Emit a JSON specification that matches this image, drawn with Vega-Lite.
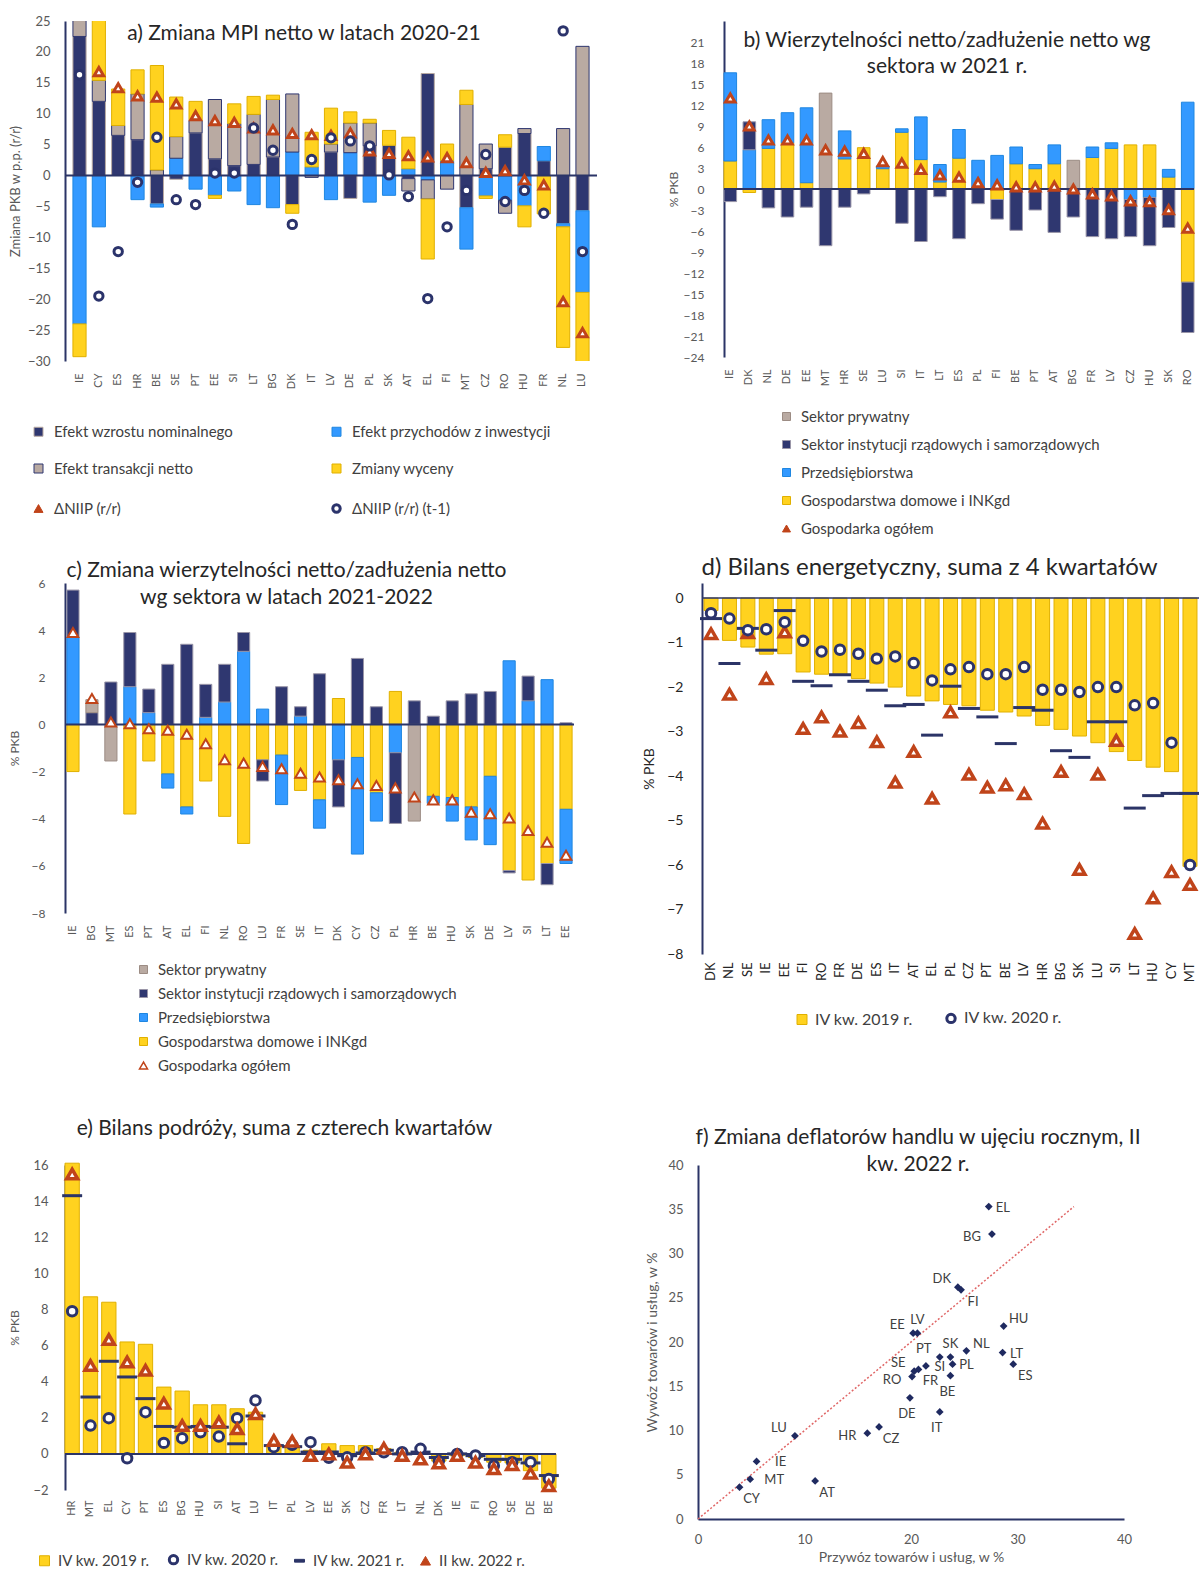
{
"$schema": "https://vega.github.io/schema/vega-lite/v6.json",
"background": "white",
"padding": {"left": 8, "top": 15, "right": 0, "bottom": 0},
"config": {
  "font": "Lato",
  "view": {"stroke": null},
  "axis": {"grid": false, "ticks": false, "labelOverlap": false, "tickCount": 30, "labelColor": "#595959", "titleColor": "#595959", "labelFont": "Lato", "titleFont": "Lato", "titleFontWeight": "normal", "labelFontSize": 13, "titleFontSize": 13, "domainColor": "#2B3467", "domainWidth": 2},
  "title": {"font": "Lato", "fontSize": 21, "fontWeight": "normal", "color": "#262626", "frame": "group", "anchor": "middle"},
  "legend": {"labelFont": "Lato", "labelColor": "#404040", "labelLimit": 500}
},
"datasets": {
  "a_order": [
    {"s": "Efekt wzrostu nominalnego", "k": 1},
    {"s": "Efekt przychodów z inwestycji", "k": 2},
    {"s": "Efekt transakcji netto", "k": 3},
    {"s": "Zmiany wyceny", "k": 4}
  ],
  "a": [
    {"c":"IE","Efekt wzrostu nominalnego":22.5,"Efekt przychodów z inwestycji":-24.0,"Efekt transakcji netto":8.0,"Zmiany wyceny":-5.3,"t":29,"p":16.3},
    {"c":"CY","Efekt wzrostu nominalnego":12.0,"Efekt przychodów z inwestycji":-8.3,"Efekt transakcji netto":3.4,"Zmiany wyceny":9.7,"t":16.8,"p":-19.5},
    {"c":"ES","Efekt wzrostu nominalnego":6.5,"Efekt przychodów z inwestycji":0,"Efekt transakcji netto":1.6,"Zmiany wyceny":5.9,"t":14.2,"p":-12.3},
    {"c":"HR","Efekt wzrostu nominalnego":5.8,"Efekt przychodów z inwestycji":-3.9,"Efekt transakcji netto":7.4,"Zmiany wyceny":3.9,"t":12.9,"p":-1.1},
    {"c":"BE","Efekt wzrostu nominalnego":-4.6,"Efekt przychodów z inwestycji":-0.5,"Efekt transakcji netto":0.9,"Zmiany wyceny":16.9,"t":12.7,"p":6.2},
    {"c":"SE","Efekt wzrostu nominalnego":-0.6,"Efekt przychodów z inwestycji":2.8,"Efekt transakcji netto":3.5,"Zmiany wyceny":6.4,"t":11.6,"p":-3.9},
    {"c":"PT","Efekt wzrostu nominalnego":6.9,"Efekt przychodów z inwestycji":-2.2,"Efekt transakcji netto":2.0,"Zmiany wyceny":3.1,"t":9.7,"p":-4.7},
    {"c":"EE","Efekt wzrostu nominalnego":2.7,"Efekt przychodów z inwestycji":-3.2,"Efekt transakcji netto":9.6,"Zmiany wyceny":-0.5,"t":8.9,"p":0.4},
    {"c":"SI","Efekt wzrostu nominalnego":1.6,"Efekt przychodów z inwestycji":-2.5,"Efekt transakcji netto":6.8,"Zmiany wyceny":3.2,"t":8.6,"p":0.4},
    {"c":"LT","Efekt wzrostu nominalnego":1.8,"Efekt przychodów z inwestycji":-4.7,"Efekt transakcji netto":8.1,"Zmiany wyceny":2.9,"t":7.7,"p":7.7},
    {"c":"BG","Efekt wzrostu nominalnego":3.0,"Efekt przychodów z inwestycji":-5.2,"Efekt transakcji netto":9.3,"Zmiany wyceny":0.7,"t":7.4,"p":4.1},
    {"c":"DK","Efekt wzrostu nominalnego":-4.7,"Efekt przychodów z inwestycji":3.8,"Efekt transakcji netto":9.4,"Zmiany wyceny":-1.4,"t":6.8,"p":-7.9},
    {"c":"IT","Efekt wzrostu nominalnego":0,"Efekt przychodów z inwestycji":1.4,"Efekt transakcji netto":-0.3,"Zmiany wyceny":5.6,"t":6.6,"p":2.6},
    {"c":"LV","Efekt wzrostu nominalnego":3.8,"Efekt przychodów z inwestycji":-3.9,"Efekt transakcji netto":1.3,"Zmiany wyceny":5.8,"t":6.5,"p":6.1},
    {"c":"DE","Efekt wzrostu nominalnego":-3.7,"Efekt przychodów z inwestycji":3.7,"Efekt transakcji netto":4.8,"Zmiany wyceny":1.8,"t":6.9,"p":5.6},
    {"c":"PL","Efekt wzrostu nominalnego":4.8,"Efekt przychodów z inwestycji":-4.3,"Efekt transakcji netto":3.7,"Zmiany wyceny":0.6,"t":4.0,"p":4.8},
    {"c":"SK","Efekt wzrostu nominalnego":4.9,"Efekt przychodów z inwestycji":-3.2,"Efekt transakcji netto":0,"Zmiany wyceny":2.4,"t":3.6,"p":0.1},
    {"c":"AT","Efekt wzrostu nominalnego":-0.5,"Efekt przychodów z inwestycji":1.1,"Efekt transakcji netto":-2.0,"Zmiany wyceny":5.1,"t":3.2,"p":-3.4},
    {"c":"EL","Efekt wzrostu nominalnego":16.5,"Efekt przychodów z inwestycji":-0.7,"Efekt transakcji netto":-3.1,"Zmiany wyceny":-9.7,"t":3.0,"p":-19.9},
    {"c":"FI","Efekt wzrostu nominalnego":0,"Efekt przychodów z inwestycji":2.4,"Efekt transakcji netto":-2.2,"Zmiany wyceny":2.7,"t":2.9,"p":-8.3},
    {"c":"MT","Efekt wzrostu nominalnego":-5.2,"Efekt przychodów z inwestycji":-6.7,"Efekt transakcji netto":11.5,"Zmiany wyceny":2.3,"t":2.1,"p":-2.4},
    {"c":"CZ","Efekt wzrostu nominalnego":1.1,"Efekt przychodów z inwestycji":-3.3,"Efekt transakcji netto":4.0,"Zmiany wyceny":-0.4,"t":0.5,"p":3.4},
    {"c":"RO","Efekt wzrostu nominalnego":4.6,"Efekt przychodów z inwestycji":-4.0,"Efekt transakcji netto":-2.1,"Zmiany wyceny":2.0,"t":0.8,"p":-4.2},
    {"c":"HU","Efekt wzrostu nominalnego":6.8,"Efekt przychodów z inwestycji":-4.9,"Efekt transakcji netto":0.8,"Zmiany wyceny":-3.4,"t":-0.7,"p":-2.4},
    {"c":"FR","Efekt wzrostu nominalnego":2.4,"Efekt przychodów z inwestycji":2.3,"Efekt transakcji netto":0,"Zmiany wyceny":-6.2,"t":-1.5,"p":-6.1},
    {"c":"NL","Efekt wzrostu nominalnego":-7.8,"Efekt przychodów z inwestycji":-0.5,"Efekt transakcji netto":7.6,"Zmiany wyceny":-19.5,"t":-20.4,"p":23.4},
    {"c":"LU","Efekt wzrostu nominalnego":-5.7,"Efekt przychodów z inwestycji":-13.2,"Efekt transakcji netto":20.9,"Zmiany wyceny":-27.4,"t":-25.4,"p":-12.3}
  ],
  "b": [
    {"c":"IE","Gospodarstwa domowe i INKgd":4.0,"Przedsiębiorstwa":12.6,"Sektor instytucji rządowych i samorządowych":-1.8,"Sektor prywatny":0,"t":13.0},
    {"c":"DK","Gospodarstwa domowe i INKgd":-0.5,"Przedsiębiorstwa":5.6,"Sektor instytucji rządowych i samorządowych":4.0,"Sektor prywatny":0,"t":9.0},
    {"c":"NL","Gospodarstwa domowe i INKgd":5.8,"Przedsiębiorstwa":4.1,"Sektor instytucji rządowych i samorządowych":-2.7,"Sektor prywatny":0,"t":7.0},
    {"c":"DE","Gospodarstwa domowe i INKgd":6.6,"Przedsiębiorstwa":4.3,"Sektor instytucji rządowych i samorządowych":-4.0,"Sektor prywatny":0,"t":7.0},
    {"c":"EE","Gospodarstwa domowe i INKgd":0.9,"Przedsiębiorstwa":10.7,"Sektor instytucji rządowych i samorządowych":-2.6,"Sektor prywatny":0,"t":7.0},
    {"c":"MT","Gospodarstwa domowe i INKgd":0,"Przedsiębiorstwa":0,"Sektor instytucji rządowych i samorządowych":-8.1,"Sektor prywatny":13.7,"t":5.6},
    {"c":"HR","Gospodarstwa domowe i INKgd":4.3,"Przedsiębiorstwa":4.0,"Sektor instytucji rządowych i samorządowych":-2.6,"Sektor prywatny":0,"t":5.4},
    {"c":"SE","Gospodarstwa domowe i INKgd":5.9,"Przedsiębiorstwa":0,"Sektor instytucji rządowych i samorządowych":-0.7,"Sektor prywatny":0,"t":5.1},
    {"c":"LU","Gospodarstwa domowe i INKgd":2.9,"Przedsiębiorstwa":0.4,"Sektor instytucji rządowych i samorządowych":0,"Sektor prywatny":0,"t":3.9},
    {"c":"SI","Gospodarstwa domowe i INKgd":8.1,"Przedsiębiorstwa":0.5,"Sektor instytucji rządowych i samorządowych":-4.9,"Sektor prywatny":0,"t":3.7},
    {"c":"IT","Gospodarstwa domowe i INKgd":4.2,"Przedsiębiorstwa":6.1,"Sektor instytucji rządowych i samorządowych":-7.5,"Sektor prywatny":0,"t":2.8},
    {"c":"LT","Gospodarstwa domowe i INKgd":1.0,"Przedsiębiorstwa":2.5,"Sektor instytucji rządowych i samorządowych":-1.1,"Sektor prywatny":0,"t":2.0},
    {"c":"ES","Gospodarstwa domowe i INKgd":4.4,"Przedsiębiorstwa":4.1,"Sektor instytucji rządowych i samorządowych":-7.1,"Sektor prywatny":0,"t":1.7},
    {"c":"PL","Gospodarstwa domowe i INKgd":0,"Przedsiębiorstwa":4.1,"Sektor instytucji rządowych i samorządowych":-2.1,"Sektor prywatny":0,"t":0.9},
    {"c":"FI","Gospodarstwa domowe i INKgd":-1.5,"Przedsiębiorstwa":4.8,"Sektor instytucji rządowych i samorządowych":-2.8,"Sektor prywatny":0,"t":0.6},
    {"c":"BE","Gospodarstwa domowe i INKgd":3.6,"Przedsiębiorstwa":2.4,"Sektor instytucji rządowych i samorządowych":-5.9,"Sektor prywatny":0,"t":0.3},
    {"c":"PT","Gospodarstwa domowe i INKgd":2.9,"Przedsiębiorstwa":0.6,"Sektor instytucji rządowych i samorządowych":-3.0,"Sektor prywatny":0,"t":0.3},
    {"c":"AT","Gospodarstwa domowe i INKgd":3.6,"Przedsiębiorstwa":2.7,"Sektor instytucji rządowych i samorządowych":-6.2,"Sektor prywatny":0,"t":0.4},
    {"c":"BG","Gospodarstwa domowe i INKgd":0,"Przedsiębiorstwa":0,"Sektor instytucji rządowych i samorządowych":-4.0,"Sektor prywatny":4.1,"t":0.0},
    {"c":"FR","Gospodarstwa domowe i INKgd":4.5,"Przedsiębiorstwa":1.5,"Sektor instytucji rządowych i samorządowych":-6.8,"Sektor prywatny":0,"t":-0.7},
    {"c":"LV","Gospodarstwa domowe i INKgd":5.8,"Przedsiębiorstwa":0.8,"Sektor instytucji rządowych i samorządowych":-7.1,"Sektor prywatny":0,"t":-1.0},
    {"c":"CZ","Gospodarstwa domowe i INKgd":6.3,"Przedsiębiorstwa":-1.5,"Sektor instytucji rządowych i samorządowych":-5.3,"Sektor prywatny":0,"t":-1.7},
    {"c":"HU","Gospodarstwa domowe i INKgd":6.3,"Przedsiębiorstwa":-1.2,"Sektor instytucji rządowych i samorządowych":-6.9,"Sektor prywatny":0,"t":-1.8},
    {"c":"SK","Gospodarstwa domowe i INKgd":1.7,"Przedsiębiorstwa":1.1,"Sektor instytucji rządowych i samorządowych":-5.5,"Sektor prywatny":0,"t":-2.95},
    {"c":"RO","Gospodarstwa domowe i INKgd":-13.3,"Przedsiębiorstwa":12.4,"Sektor instytucji rządowych i samorządowych":-7.2,"Sektor prywatny":0,"t":-5.6}
  ],
  "cc": [
    {"c":"IE","Gospodarstwa domowe i INKgd":-2.0,"Przedsiębiorstwa":3.7,"Sektor instytucji rządowych i samorządowych":2.0,"Sektor prywatny":0,"t":3.9},
    {"c":"BG","Gospodarstwa domowe i INKgd":0,"Przedsiębiorstwa":0,"Sektor instytucji rządowych i samorządowych":0.5,"Sektor prywatny":0.55,"t":1.1},
    {"c":"MT","Gospodarstwa domowe i INKgd":0,"Przedsiębiorstwa":0,"Sektor instytucji rządowych i samorządowych":1.8,"Sektor prywatny":-1.55,"t":0.1},
    {"c":"ES","Gospodarstwa domowe i INKgd":-3.8,"Przedsiębiorstwa":1.6,"Sektor instytucji rządowych i samorządowych":2.3,"Sektor prywatny":0,"t":0.03},
    {"c":"PT","Gospodarstwa domowe i INKgd":-1.55,"Przedsiębiorstwa":0.5,"Sektor instytucji rządowych i samorządowych":1.0,"Sektor prywatny":0,"t":-0.18},
    {"c":"AT","Gospodarstwa domowe i INKgd":-2.1,"Przedsiębiorstwa":-0.6,"Sektor instytucji rządowych i samorządowych":2.55,"Sektor prywatny":0,"t":-0.25},
    {"c":"EL","Gospodarstwa domowe i INKgd":-3.5,"Przedsiębiorstwa":-0.3,"Sektor instytucji rządowych i samorządowych":3.4,"Sektor prywatny":0,"t":-0.42},
    {"c":"FI","Gospodarstwa domowe i INKgd":-2.4,"Przedsiębiorstwa":0.3,"Sektor instytucji rządowych i samorządowych":1.4,"Sektor prywatny":0,"t":-0.82},
    {"c":"NL","Gospodarstwa domowe i INKgd":-3.9,"Przedsiębiorstwa":0.95,"Sektor instytucji rządowych i samorządowych":1.6,"Sektor prywatny":0,"t":-1.5},
    {"c":"RO","Gospodarstwa domowe i INKgd":-5.05,"Przedsiębiorstwa":3.1,"Sektor instytucji rządowych i samorządowych":0.8,"Sektor prywatny":0,"t":-1.64},
    {"c":"LU","Gospodarstwa domowe i INKgd":-1.5,"Przedsiębiorstwa":0.65,"Sektor instytucji rządowych i samorządowych":-0.9,"Sektor prywatny":0,"t":-1.78},
    {"c":"FR","Gospodarstwa domowe i INKgd":-1.3,"Przedsiębiorstwa":-2.1,"Sektor instytucji rządowych i samorządowych":1.6,"Sektor prywatny":0,"t":-1.88},
    {"c":"SE","Gospodarstwa domowe i INKgd":-2.8,"Przedsiębiorstwa":0.35,"Sektor instytucji rządowych i samorządowych":0.4,"Sektor prywatny":0,"t":-2.07},
    {"c":"IT","Gospodarstwa domowe i INKgd":-3.2,"Przedsiębiorstwa":-1.2,"Sektor instytucji rządowych i samorządowych":2.15,"Sektor prywatny":0,"t":-2.23},
    {"c":"DK","Gospodarstwa domowe i INKgd":1.1,"Przedsiębiorstwa":-1.5,"Sektor instytucji rządowych i samorządowych":-2.0,"Sektor prywatny":0,"t":-2.35},
    {"c":"CY","Gospodarstwa domowe i INKgd":-1.4,"Przedsiębiorstwa":-4.1,"Sektor instytucji rządowych i samorządowych":2.8,"Sektor prywatny":0,"t":-2.52},
    {"c":"CZ","Gospodarstwa domowe i INKgd":-2.9,"Przedsiębiorstwa":-1.2,"Sektor instytucji rządowych i samorządowych":0.75,"Sektor prywatny":0,"t":-2.59},
    {"c":"PL","Gospodarstwa domowe i INKgd":1.4,"Przedsiębiorstwa":-1.2,"Sektor instytucji rządowych i samorządowych":-3.0,"Sektor prywatny":0,"t":-2.69},
    {"c":"HR","Gospodarstwa domowe i INKgd":0,"Przedsiębiorstwa":0,"Sektor instytucji rządowych i samorządowych":1.0,"Sektor prywatny":-4.1,"t":-3.08},
    {"c":"BE","Gospodarstwa domowe i INKgd":-3.05,"Przedsiębiorstwa":-0.3,"Sektor instytucji rządowych i samorządowych":0.35,"Sektor prywatny":0,"t":-3.2},
    {"c":"HU","Gospodarstwa domowe i INKgd":-3.1,"Przedsiębiorstwa":-1.0,"Sektor instytucji rządowych i samorządowych":1.0,"Sektor prywatny":0,"t":-3.2},
    {"c":"SK","Gospodarstwa domowe i INKgd":-3.5,"Przedsiębiorstwa":-1.4,"Sektor instytucji rządowych i samorządowych":1.3,"Sektor prywatny":0,"t":-3.72},
    {"c":"DE","Gospodarstwa domowe i INKgd":-2.2,"Przedsiębiorstwa":-2.9,"Sektor instytucji rządowych i samorządowych":1.4,"Sektor prywatny":0,"t":-3.79},
    {"c":"LV","Gospodarstwa domowe i INKgd":-6.2,"Przedsiębiorstwa":2.7,"Sektor instytucji rządowych i samorządowych":-0.1,"Sektor prywatny":0,"t":-3.97},
    {"c":"SI","Gospodarstwa domowe i INKgd":-6.6,"Przedsiębiorstwa":1.0,"Sektor instytucji rządowych i samorządowych":1.05,"Sektor prywatny":0,"t":-4.5},
    {"c":"LT","Gospodarstwa domowe i INKgd":-5.9,"Przedsiębiorstwa":1.9,"Sektor instytucji rządowych i samorządowych":-0.9,"Sektor prywatny":0,"t":-5.0},
    {"c":"EE","Gospodarstwa domowe i INKgd":-3.6,"Przedsiębiorstwa":-2.3,"Sektor instytucji rządowych i samorządowych":0.07,"Sektor prywatny":0,"t":-5.55}
  ],
  "d": [
    {"c":"DK","b":-0.28,"o":-0.34,"d":-0.46,"t":-0.80},
    {"c":"NL","b":-0.95,"o":-0.46,"d":-1.47,"t":-2.16},
    {"c":"SE","b":-1.10,"o":-0.72,"d":-0.68,"t":-0.78},
    {"c":"IE","b":-1.26,"o":-0.70,"d":-1.17,"t":-1.81},
    {"c":"EE","b":-1.25,"o":-0.54,"d":-0.28,"t":-0.76},
    {"c":"FI","b":-1.66,"o":-0.96,"d":-1.87,"t":-2.93},
    {"c":"RO","b":-1.71,"o":-1.20,"d":-1.97,"t":-2.67},
    {"c":"FR","b":-1.73,"o":-1.16,"d":-1.72,"t":-2.99},
    {"c":"DE","b":-1.81,"o":-1.25,"d":-1.87,"t":-2.80},
    {"c":"ES","b":-1.91,"o":-1.36,"d":-2.07,"t":-3.23},
    {"c":"IT","b":-2.00,"o":-1.31,"d":-2.42,"t":-4.14},
    {"c":"AT","b":-2.20,"o":-1.46,"d":-2.39,"t":-3.45},
    {"c":"EL","b":-2.31,"o":-1.85,"d":-3.08,"t":-4.50},
    {"c":"PL","b":-2.39,"o":-1.60,"d":-1.98,"t":-2.56},
    {"c":"CZ","b":-2.42,"o":-1.55,"d":-2.48,"t":-3.96},
    {"c":"PT","b":-2.52,"o":-1.71,"d":-2.67,"t":-4.25},
    {"c":"BE","b":-2.56,"o":-1.71,"d":-3.27,"t":-4.20},
    {"c":"LV","b":-2.65,"o":-1.55,"d":-2.46,"t":-4.40},
    {"c":"HR","b":-2.86,"o":-2.06,"d":-2.52,"t":-5.06},
    {"c":"BG","b":-2.95,"o":-2.06,"d":-3.43,"t":-3.90},
    {"c":"SK","b":-3.10,"o":-2.11,"d":-3.58,"t":-6.10},
    {"c":"LU","b":-3.25,"o":-2.00,"d":-2.78,"t":-3.96},
    {"c":"SI","b":-3.45,"o":-2.00,"d":-2.78,"t":-3.20},
    {"c":"LT","b":-3.65,"o":-2.41,"d":-4.72,"t":-7.54},
    {"c":"HU","b":-3.80,"o":-2.36,"d":-4.44,"t":-6.74},
    {"c":"CY","b":-3.90,"o":-3.25,"d":-4.39,"t":-6.15},
    {"c":"MT","b":-6.03,"o":-6.00,"d":-4.39,"t":-6.44}
  ],
  "e": [
    {"c":"HR","b":16.1,"o":7.9,"d":14.3,"t":15.5},
    {"c":"MT","b":8.7,"o":1.57,"d":3.15,"t":4.9},
    {"c":"EL","b":8.4,"o":1.98,"d":5.13,"t":6.33},
    {"c":"CY","b":6.2,"o":-0.24,"d":4.26,"t":5.09},
    {"c":"PT","b":6.07,"o":2.31,"d":3.06,"t":4.63},
    {"c":"ES","b":3.7,"o":0.61,"d":1.52,"t":2.81},
    {"c":"BG","b":3.48,"o":0.87,"d":1.48,"t":1.57},
    {"c":"HU","b":2.72,"o":1.2,"d":1.52,"t":1.57},
    {"c":"SI","b":2.72,"o":0.96,"d":1.48,"t":1.76},
    {"c":"AT","b":2.5,"o":1.98,"d":0.56,"t":1.39},
    {"c":"LU","b":2.31,"o":2.96,"d":2.1,"t":2.22},
    {"c":"IT","b":0.4,"o":0.37,"d":0.46,"t":0.74},
    {"c":"PL","b":0.4,"o":0.5,"d":0.4,"t":0.7},
    {"c":"LV","b":0.2,"o":0.65,"d":0.1,"t":-0.09},
    {"c":"EE","b":0.56,"o":-0.22,"d":0.1,"t":0.0},
    {"c":"SK","b":0.46,"o":-0.19,"d":-0.1,"t":-0.46},
    {"c":"CZ","b":0.46,"o":0.09,"d":0.05,"t":0.0},
    {"c":"FR","b":0.3,"o":0.09,"d":0.2,"t":0.31},
    {"c":"LT","b":0.1,"o":0.09,"d":0.0,"t":-0.09},
    {"c":"NL","b":0.1,"o":0.28,"d":0.1,"t":-0.28},
    {"c":"DK","b":-0.4,"o":-0.4,"d":-0.2,"t":-0.5},
    {"c":"IE","b":-0.1,"o":0.0,"d":0.0,"t":-0.09},
    {"c":"FI","b":-0.2,"o":-0.09,"d":-0.1,"t":-0.46},
    {"c":"RO","b":-0.46,"o":-0.65,"d":-0.3,"t":-0.83},
    {"c":"SE","b":-0.5,"o":-0.46,"d":-0.3,"t":-0.6},
    {"c":"DE","b":-0.93,"o":-0.46,"d":-0.5,"t":-1.07},
    {"c":"BE","b":-1.9,"o":-1.39,"d":-1.2,"t":-1.76}
  ],
  "f": [
    {"c":"EL","x":27.3,"y":35.3},
    {"c":"BG","x":27.6,"y":32.2},
    {"c":"DK","x":24.4,"y":26.2},
    {"c":"FI","x":24.7,"y":25.9},
    {"c":"HU","x":28.7,"y":21.8},
    {"c":"EE","x":20.2,"y":21.0},
    {"c":"LV","x":20.6,"y":21.0},
    {"c":"NL","x":25.2,"y":19.0},
    {"c":"LT","x":28.6,"y":18.8},
    {"c":"PT","x":22.7,"y":18.3},
    {"c":"SK","x":23.7,"y":18.3},
    {"c":"PL","x":23.9,"y":17.5},
    {"c":"ES","x":29.6,"y":17.5},
    {"c":"SI","x":21.4,"y":17.3},
    {"c":"SE","x":20.3,"y":16.7},
    {"c":"RO","x":20.1,"y":16.1},
    {"c":"FR","x":20.7,"y":16.9},
    {"c":"BE","x":23.7,"y":16.2},
    {"c":"DE","x":19.9,"y":13.7},
    {"c":"IT","x":22.7,"y":12.1},
    {"c":"CZ","x":17.0,"y":10.4},
    {"c":"HR","x":15.9,"y":9.7},
    {"c":"LU","x":9.1,"y":9.4},
    {"c":"IE","x":5.5,"y":6.5},
    {"c":"MT","x":4.9,"y":4.5},
    {"c":"AT","x":11.0,"y":4.3},
    {"c":"CY","x":3.9,"y":3.6}
  ],
  "f_line": [{"x":0,"y":0},{"x":35.3,"y":35.3}]
},
"resolve": {"scale": {"color": "independent", "stroke": "independent"}, "legend": {"color": "independent"}},
"spacing": 44,
"vconcat": [
 {
  "resolve": {"scale": {"color": "independent", "stroke": "independent"}, "legend": {"color": "independent"}},
  "spacing": 19,
  "vconcat": [
   {
    "resolve": {"scale": {"color": "independent", "stroke": "independent"}, "legend": {"color": "independent"}},
    "spacing": 69,
    "hconcat": [
     {
      "width": 532, "height": 340,
      "title": {"text": "a) Zmiana MPI netto w latach 2020-21", "offset": -29, "dx": -27},
      "data": {"name": "a"},
      "layer": [
       {
        "transform": [
          {"fold": ["Efekt wzrostu nominalnego","Efekt przychodów z inwestycji","Efekt transakcji netto","Zmiany wyceny"], "as": ["s","v"]},
          {"filter": "datum.v != 0"},
          {"lookup": "s", "from": {"data": {"name": "a_order"}, "key": "s", "fields": ["k"]}}
        ],
        "mark": {"type": "bar", "clip": true, "strokeWidth": 1},
        "encoding": {
          "x": {"field": "c", "type": "nominal", "title": null, "scale": {"domain": ["IE","CY","ES","HR","BE","SE","PT","EE","SI","LT","BG","DK","IT","LV","DE","PL","SK","AT","EL","FI","MT","CZ","RO","HU","FR","NL","LU"], "paddingInner": 0.32, "paddingOuter": 0.41}, "axis": {"labelAngle": -90, "labelPadding": 12, "domain": false, "labelFontSize": 11}},
          "y": {"field": "v", "type": "quantitative", "title": "Zmiana PKB w p.p. (r/r)", "scale": {"domain": [-30, 25], "nice": false, "zero": false}, "axis": {"values": [-30,-25,-20,-15,-10,-5,0,5,10,15,20,25], "format": "d", "tickCount": 30, "labelPadding": 15, "titlePadding": 5, "labelOverlap": false}},
          "color": {"field": "s", "type": "nominal",
            "scale": {"domain": ["Efekt wzrostu nominalnego","Efekt przychodów z inwestycji","Efekt transakcji netto","Zmiany wyceny","ΔNIIP (r/r)","ΔNIIP (r/r) (t-1)"], "range": ["#2F3770","#3399FF","#B9AAA2","#FFD21F","#C0441A","#FFFFFF"]},
            "legend": {"title": null, "orient": "none", "direction": "horizontal", "legendX": -34, "legendY": 403, "columns": 2, "columnPadding": 92, "rowPadding": 21, "symbolSize": 81, "labelOffset": 8, "labelFontSize": 15,
              "encode": {"symbols": {"update": {
                "shape": {"signal": "datum.value === 'ΔNIIP (r/r)' ? 'triangle-up' : (datum.value === 'ΔNIIP (r/r) (t-1)' ? 'circle' : 'square')"},
                "stroke": {"signal": "['#B9AAA2','#1F86E0','#2F3770','#E0B000','#C0441A','#2B336B'][indexof(['Efekt wzrostu nominalnego','Efekt przychodów z inwestycji','Efekt transakcji netto','Zmiany wyceny','ΔNIIP (r/r)','ΔNIIP (r/r) (t-1)'], datum.value)]"},
                "strokeWidth": {"signal": "datum.value === 'ΔNIIP (r/r) (t-1)' ? 3 : 1"},
                "size": {"signal": "datum.value === 'ΔNIIP (r/r) (t-1)' ? 55 : 81"}
              }}}}},
          "stroke": {"field": "s", "type": "nominal", "scale": {"domain": ["Efekt wzrostu nominalnego","Efekt przychodów z inwestycji","Efekt transakcji netto","Zmiany wyceny"], "range": ["#B9AAA2","#1F86E0","#2F3770","#E0B000"]}, "legend": null},
          "order": {"field": "k", "type": "quantitative"}
        }
       },
       {"data": {"values": [{}]}, "mark": {"type": "rule", "color": "#2B3467", "strokeWidth": 2}, "encoding": {"y": {"datum": 0, "type": "quantitative"}}},
       {
        "mark": {"type": "point", "shape": "triangle-up", "filled": true, "fill": "#FFFFFF", "stroke": "#C0441A", "strokeWidth": 3, "size": 90, "opacity": 1, "clip": true},
        "encoding": {
          "x": {"field": "c", "type": "nominal", "title": null, "scale": {"domain": ["IE","CY","ES","HR","BE","SE","PT","EE","SI","LT","BG","DK","IT","LV","DE","PL","SK","AT","EL","FI","MT","CZ","RO","HU","FR","NL","LU"]}},
          "y": {"field": "t", "type": "quantitative", "title": "Zmiana PKB w p.p. (r/r)"}
        }
       },
       {
        "mark": {"type": "point", "shape": "circle", "filled": true, "fill": "#FFFFFF", "stroke": "#2B336B", "strokeWidth": 3, "size": 70, "opacity": 1, "clip": true},
        "encoding": {
          "x": {"field": "c", "type": "nominal", "title": null, "scale": {"domain": ["IE","CY","ES","HR","BE","SE","PT","EE","SI","LT","BG","DK","IT","LV","DE","PL","SK","AT","EL","FI","MT","CZ","RO","HU","FR","NL","LU"]}},
          "y": {"field": "p", "type": "quantitative", "title": "Zmiana PKB w p.p. (r/r)"}
        }
       }
      ]
     },
     {
      "width": 470, "height": 336,
      "title": {"text": ["b) Wierzytelności netto/zadłużenie netto wg", "sektora w 2021 r."], "lineHeight": 26, "offset": -56, "dx": -12},
      "data": {"name": "b"},
      "layer": [
       {
        "transform": [
          {"fold": ["Gospodarstwa domowe i INKgd","Przedsiębiorstwa","Sektor instytucji rządowych i samorządowych","Sektor prywatny"], "as": ["s","v"]},
          {"filter": "datum.v != 0"}
        ],
        "mark": {"type": "bar", "strokeWidth": 1},
        "encoding": {
          "x": {"field": "c", "type": "nominal", "title": null, "scale": {"domain": ["IE","DK","NL","DE","EE","MT","HR","SE","LU","SI","IT","LT","ES","PL","FI","BE","PT","AT","BG","FR","LV","CZ","HU","SK","RO"], "paddingInner": 0.34, "paddingOuter": 0.0}, "axis": {"labelAngle": -90, "labelPadding": 12, "domain": false, "labelFontSize": 11}},
          "y": {"field": "v", "type": "quantitative", "title": "% PKB", "scale": {"domain": [-24, 24], "nice": false, "zero": false}, "axis": {"values": [-24,-21,-18,-15,-12,-9,-6,-3,0,3,6,9,12,15,18,21], "format": "d", "tickCount": 30, "labelPadding": 20, "titlePadding": 3, "labelFontSize": 12, "titleFontSize": 12, "labelOverlap": false}},
          "color": {"field": "s", "type": "nominal",
            "scale": {"domain": ["Sektor prywatny","Sektor instytucji rządowych i samorządowych","Przedsiębiorstwa","Gospodarstwa domowe i INKgd","Gospodarka ogółem"], "range": ["#B9AAA2","#2F3770","#3399FF","#FFD21F","#C0441A"]},
            "legend": {"title": null, "orient": "none", "legendX": 55, "legendY": 388, "rowPadding": 12, "symbolSize": 64, "labelOffset": 7, "labelFontSize": 15,
              "encode": {"symbols": {"update": {
                "shape": {"signal": "datum.value === 'Gospodarka ogółem' ? 'triangle-up' : 'square'"},
                "stroke": {"signal": "['#9C8C84','#9A96A8','#1F86E0','#E0B000','#C0441A'][indexof(['Sektor prywatny','Sektor instytucji rządowych i samorządowych','Przedsiębiorstwa','Gospodarstwa domowe i INKgd','Gospodarka ogółem'], datum.value)]"},
                "strokeWidth": {"value": 1}
              }}}}},
          "stroke": {"field": "s", "type": "nominal", "scale": {"domain": ["Sektor prywatny","Sektor instytucji rządowych i samorządowych","Przedsiębiorstwa","Gospodarstwa domowe i INKgd"], "range": ["#9C8C84","#9A96A8","#1F86E0","#E0B000"]}, "legend": null},
          "order": {"field": "s", "type": "nominal", "sort": "ascending"}
        }
       },
       {"data": {"values": [{}]}, "mark": {"type": "rule", "color": "#2B3467", "strokeWidth": 2}, "encoding": {"y": {"datum": 0, "type": "quantitative"}}},
       {
        "mark": {"type": "point", "shape": "triangle-up", "filled": true, "fill": "#FFFFFF", "stroke": "#C0441A", "strokeWidth": 3, "size": 90, "opacity": 1},
        "encoding": {
          "x": {"field": "c", "type": "nominal", "title": null, "scale": {"domain": ["IE","DK","NL","DE","EE","MT","HR","SE","LU","SI","IT","LT","ES","PL","FI","BE","PT","AT","BG","FR","LV","CZ","HU","SK","RO"]}},
          "y": {"field": "t", "type": "quantitative", "title": "% PKB"}
        }
       }
      ]
     }
    ]
   },
   {
    "resolve": {"scale": {"color": "independent", "stroke": "independent"}, "legend": {"color": "independent"}},
    "spacing": 66,
    "hconcat": [
     {
      "width": 509, "height": 330,
      "title": {"text": ["c) Zmiana wierzytelności netto/zadłużenia netto", "wg sektora w latach 2021-2022"], "lineHeight": 27, "offset": -31, "dx": -33},
      "data": {"name": "cc"},
      "layer": [
       {
        "transform": [
          {"fold": ["Gospodarstwa domowe i INKgd","Przedsiębiorstwa","Sektor instytucji rządowych i samorządowych","Sektor prywatny"], "as": ["s","v"]},
          {"filter": "datum.v != 0"}
        ],
        "mark": {"type": "bar", "strokeWidth": 1},
        "encoding": {
          "x": {"field": "c", "type": "nominal", "title": null, "scale": {"domain": ["IE","BG","MT","ES","PT","AT","EL","FI","NL","RO","LU","FR","SE","IT","DK","CY","CZ","PL","HR","BE","HU","SK","DE","LV","SI","LT","EE"], "paddingInner": 0.36, "paddingOuter": 0.1}, "axis": {"labelAngle": -90, "labelPadding": 12, "domain": false, "labelFontSize": 11}},
          "y": {"field": "v", "type": "quantitative", "title": "% PKB", "scale": {"domain": [-8, 6], "nice": false, "zero": false}, "axis": {"values": [-8,-6,-4,-2,0,2,4,6], "format": "d", "tickCount": 30, "labelPadding": 20, "titlePadding": 10, "labelFontSize": 12, "titleFontSize": 12, "labelOverlap": false}},
          "color": {"field": "s", "type": "nominal",
            "scale": {"domain": ["Sektor prywatny","Sektor instytucji rządowych i samorządowych","Przedsiębiorstwa","Gospodarstwa domowe i INKgd","Gospodarka ogółem"], "range": ["#B9AAA2","#2F3770","#3399FF","#FFD21F","#FFFFFF"]},
            "legend": {"title": null, "orient": "none", "legendX": 71, "legendY": 379, "rowPadding": 8, "symbolSize": 64, "labelOffset": 7, "labelFontSize": 15,
              "encode": {"symbols": {"update": {
                "shape": {"signal": "datum.value === 'Gospodarka ogółem' ? 'triangle-up' : 'square'"},
                "stroke": {"signal": "['#9C8C84','#9A96A8','#1F86E0','#E0B000','#C0441A'][indexof(['Sektor prywatny','Sektor instytucji rządowych i samorządowych','Przedsiębiorstwa','Gospodarstwa domowe i INKgd','Gospodarka ogółem'], datum.value)]"},
                "strokeWidth": {"signal": "datum.value === 'Gospodarka ogółem' ? 1.5 : 1"}
              }}}}},
          "stroke": {"field": "s", "type": "nominal", "scale": {"domain": ["Sektor prywatny","Sektor instytucji rządowych i samorządowych","Przedsiębiorstwa","Gospodarstwa domowe i INKgd"], "range": ["#9C8C84","#9A96A8","#1F86E0","#E0B000"]}, "legend": null},
          "order": {"field": "s", "type": "nominal", "sort": "ascending"}
        }
       },
       {"data": {"values": [{}]}, "mark": {"type": "rule", "color": "#2B3467", "strokeWidth": 2}, "encoding": {"y": {"datum": 0, "type": "quantitative"}}},
       {
        "mark": {"type": "point", "shape": "triangle-up", "filled": true, "fill": "#FFFFFF", "stroke": "#C0441A", "strokeWidth": 2, "size": 110, "opacity": 1},
        "encoding": {
          "x": {"field": "c", "type": "nominal", "title": null, "scale": {"domain": ["IE","BG","MT","ES","PT","AT","EL","FI","NL","RO","LU","FR","SE","IT","DK","CY","CZ","PL","HR","BE","HU","SK","DE","LV","SI","LT","EE"]}},
          "y": {"field": "t", "type": "quantitative", "title": "% PKB"}
        }
       }
      ]
     },
     {
      "width": 497, "height": 371,
      "title": {"text": "d) Bilans energetyczny, suma z 4 kwartałów", "fontSize": 24, "offset": 3, "dx": -21},
      "data": {"name": "d"},
      "layer": [
       {
        "mark": {"type": "bar", "stroke": "#E0B000", "strokeWidth": 1},
        "encoding": {
          "x": {"field": "c", "type": "nominal", "title": null, "scale": {"domain": ["DK","NL","SE","IE","EE","FI","RO","FR","DE","ES","IT","AT","EL","PL","CZ","PT","BE","LV","HR","BG","SK","LU","SI","LT","HU","CY","MT"], "paddingInner": 0.24, "paddingOuter": 0.11}, "axis": {"labelAngle": -90, "labelPadding": 8, "domain": false, "labelFontSize": 13, "labelColor": "#262626"}},
          "y": {"field": "b", "type": "quantitative", "title": "% PKB", "scale": {"domain": [-8, 0.34], "nice": false, "zero": false}, "axis": {"values": [-8,-7,-6,-5,-4,-3,-2,-1,0], "format": "d", "tickCount": 30, "labelPadding": 19, "titlePadding": 10, "labelFontSize": 14, "titleFontSize": 14, "labelColor": "#262626", "titleColor": "#262626"}},
          "color": {"datum": "IV kw. 2019 r.", "type": "nominal",
            "scale": {"domain": ["IV kw. 2019 r.","IV kw. 2020 r."], "range": ["#FFD21F","#FFFFFF"]},
            "legend": {"title": null, "orient": "none", "direction": "horizontal", "legendX": 92, "legendY": 427, "columnPadding": 27, "symbolSize": 100, "labelOffset": 5, "labelFontSize": 16, "symbolStrokeColor": "#2B336B", "symbolStrokeWidth": 1,
              "encode": {"symbols": {"update": {
                "shape": {"signal": "datum.value === 'IV kw. 2020 r.' ? 'circle' : 'square'"},
                "stroke": {"signal": "datum.value === 'IV kw. 2020 r.' ? '#2B336B' : '#E0B000'"},
                "strokeWidth": {"signal": "datum.value === 'IV kw. 2020 r.' ? 3 : 1"},
                "size": {"signal": "datum.value === 'IV kw. 2020 r.' ? 70 : 100"}
              }}}}}
        }
       },
       {"data": {"values": [{}]}, "mark": {"type": "rule", "color": "#2B3467", "strokeWidth": 1.5}, "encoding": {"y": {"datum": 0, "type": "quantitative"}}},
       {
        "mark": {"type": "tick", "color": "#2B3467", "thickness": 3, "size": 22, "opacity": 1},
        "encoding": {
          "x": {"field": "c", "type": "nominal", "title": null, "scale": {"domain": ["DK","NL","SE","IE","EE","FI","RO","FR","DE","ES","IT","AT","EL","PL","CZ","PT","BE","LV","HR","BG","SK","LU","SI","LT","HU","CY","MT"]}},
          "y": {"field": "d", "type": "quantitative", "title": "% PKB"}
        }
       },
       {
        "mark": {"type": "point", "shape": "triangle-up", "filled": true, "fill": "#FFFFFF", "stroke": "#C0441A", "strokeWidth": 3.5, "size": 120, "opacity": 1},
        "encoding": {
          "x": {"field": "c", "type": "nominal", "title": null, "scale": {"domain": ["DK","NL","SE","IE","EE","FI","RO","FR","DE","ES","IT","AT","EL","PL","CZ","PT","BE","LV","HR","BG","SK","LU","SI","LT","HU","CY","MT"]}},
          "y": {"field": "t", "type": "quantitative", "title": "% PKB"}
        }
       },
       {
        "mark": {"type": "point", "shape": "circle", "filled": true, "fill": "#FFFFFF", "stroke": "#2B336B", "strokeWidth": 3, "size": 90, "opacity": 1},
        "encoding": {
          "x": {"field": "c", "type": "nominal", "title": null, "scale": {"domain": ["DK","NL","SE","IE","EE","FI","RO","FR","DE","ES","IT","AT","EL","PL","CZ","PT","BE","LV","HR","BG","SK","LU","SI","LT","HU","CY","MT"]}},
          "y": {"field": "o", "type": "quantitative", "title": "% PKB"}
        }
       }
      ]
     }
    ]
   }
  ]
 },
 {
  "resolve": {"scale": {"color": "independent", "stroke": "independent"}, "legend": {"color": "independent"}},
  "spacing": 83,
  "hconcat": [
   {
    "width": 491, "height": 325,
    "title": {"text": "e) Bilans podróży, suma z czterech kwartałów", "offset": 20, "dx": -26},
    "data": {"name": "e"},
    "layer": [
     {
      "mark": {"type": "bar", "stroke": "#E0B000", "strokeWidth": 1},
      "encoding": {
        "x": {"field": "c", "type": "nominal", "title": null, "scale": {"domain": ["HR","MT","EL","CY","PT","ES","BG","HU","SI","AT","LU","IT","PL","LV","EE","SK","CZ","FR","LT","NL","DK","IE","FI","RO","SE","DE","BE"], "paddingInner": 0.22, "paddingOuter": 0.0}, "axis": {"labelAngle": -90, "labelPadding": 10, "domain": false, "labelFontSize": 11}},
        "y": {"field": "b", "type": "quantitative", "title": "% PKB", "scale": {"domain": [-2, 16], "nice": false, "zero": false}, "axis": {"values": [-2,0,2,4,6,8,10,12,14,16], "format": "d", "tickCount": 30, "labelPadding": 17, "titlePadding": 11, "labelFontSize": 13, "titleFontSize": 12, "labelOverlap": false}},
        "color": {"datum": "IV kw. 2019 r.", "type": "nominal",
          "scale": {"domain": ["IV kw. 2019 r.","IV kw. 2020 r.","IV kw. 2021 r.","II kw. 2022 r."], "range": ["#FFD21F","#FFFFFF","#2B3467","#C0441A"]},
          "legend": {"title": null, "orient": "none", "direction": "horizontal", "legendX": -28, "legendY": 387, "columnPadding": 13, "symbolSize": 100, "labelOffset": 6, "labelFontSize": 15, "symbolStrokeColor": "#2B336B", "symbolStrokeWidth": 1,
            "encode": {"symbols": {"update": {
              "shape": {"signal": "datum.value === 'IV kw. 2020 r.' ? 'circle' : (datum.value === 'IV kw. 2021 r.' ? 'M-1,-0.28L1,-0.28L1,0.28L-1,0.28Z' : (datum.value === 'II kw. 2022 r.' ? 'triangle-up' : 'square'))"},
              "stroke": {"signal": "datum.value === 'IV kw. 2020 r.' ? '#2B336B' : (datum.value === 'IV kw. 2021 r.' ? '#2B3467' : (datum.value === 'II kw. 2022 r.' ? '#C0441A' : '#E0B000'))"},
              "strokeWidth": {"signal": "datum.value === 'IV kw. 2020 r.' ? 3 : 1"},
              "size": {"signal": "datum.value === 'IV kw. 2020 r.' ? 70 : 100"}
            }}}}}
      }
     },
     {"data": {"values": [{}]}, "mark": {"type": "rule", "color": "#2B3467", "strokeWidth": 2}, "encoding": {"y": {"datum": 0, "type": "quantitative"}}},
     {
      "mark": {"type": "tick", "color": "#2B3467", "thickness": 3, "size": 20, "opacity": 1},
      "encoding": {
        "x": {"field": "c", "type": "nominal", "title": null, "scale": {"domain": ["HR","MT","EL","CY","PT","ES","BG","HU","SI","AT","LU","IT","PL","LV","EE","SK","CZ","FR","LT","NL","DK","IE","FI","RO","SE","DE","BE"]}},
        "y": {"field": "d", "type": "quantitative", "title": "% PKB"}
      }
     },
     {
      "mark": {"type": "point", "shape": "circle", "filled": true, "fill": "#FFFFFF", "stroke": "#2B336B", "strokeWidth": 3, "size": 90, "opacity": 1},
      "encoding": {
        "x": {"field": "c", "type": "nominal", "title": null, "scale": {"domain": ["HR","MT","EL","CY","PT","ES","BG","HU","SI","AT","LU","IT","PL","LV","EE","SK","CZ","FR","LT","NL","DK","IE","FI","RO","SE","DE","BE"]}},
        "y": {"field": "o", "type": "quantitative", "title": "% PKB"}
      }
     },
     {
      "mark": {"type": "point", "shape": "triangle-up", "filled": true, "fill": "#FFFFFF", "stroke": "#C0441A", "strokeWidth": 3.5, "size": 120, "opacity": 1},
      "encoding": {
        "x": {"field": "c", "type": "nominal", "title": null, "scale": {"domain": ["HR","MT","EL","CY","PT","ES","BG","HU","SI","AT","LU","IT","PL","LV","EE","SK","CZ","FR","LT","NL","DK","IE","FI","RO","SE","DE","BE"]}},
        "y": {"field": "t", "type": "quantitative", "title": "% PKB"}
      }
     }
    ]
   },
   {
    "width": 426, "height": 354,
    "title": {"text": ["f) Zmiana deflatorów handlu w ujęciu rocznym, II", "kw. 2022 r."], "lineHeight": 27, "offset": -16, "dx": 7},
    "layer": [
     {
      "data": {"name": "f_line"},
      "mark": {"type": "line", "color": "#E06666", "strokeDash": [2, 2], "strokeWidth": 1.5},
      "encoding": {
        "x": {"field": "x", "type": "quantitative", "title": "Przywóz towarów i usług, w %", "scale": {"domain": [0, 40], "nice": false}, "axis": {"values": [0,10,20,30,40], "format": "d", "labelFlush": false, "labelPadding": 14, "titlePadding": 4, "labelFontSize": 13, "titleFontSize": 14}},
        "y": {"field": "y", "type": "quantitative", "title": "Wywóz towarów i usług, w %", "scale": {"domain": [0, 40], "nice": false}, "axis": {"values": [0,5,10,15,20,25,30,35,40], "format": "d", "labelPadding": 15, "titlePadding": 8, "labelFontSize": 13, "titleFontSize": 14}}
      }
     },
     {
      "data": {"name": "f"},
      "mark": {"type": "point", "shape": "diamond", "filled": true, "color": "#1F2A60", "size": 60, "opacity": 1},
      "encoding": {
        "x": {"field": "x", "type": "quantitative", "title": "Przywóz towarów i usług, w %", "scale": {"domain": [0, 40], "nice": false}},
        "y": {"field": "y", "type": "quantitative", "title": "Wywóz towarów i usług, w %", "scale": {"domain": [0, 40], "nice": false}}
      }
     },
     {
      "data": {"name": "f"},
      "transform": [{"filter": {"field": "c", "oneOf": ["EL","LT","SI","PL"]}}],
      "mark": {"type": "text", "dx": 14, "dy": 1, "fontSize": 13, "color": "#404040"},
      "encoding": {"x": {"field": "x", "type": "quantitative", "title": "Przywóz towarów i usług, w %"}, "y": {"field": "y", "type": "quantitative", "title": "Wywóz towarów i usług, w %"}, "text": {"field": "c"}}
     },
     {
      "data": {"name": "f"},
      "transform": [{"filter": {"field": "c", "oneOf": ["HU","NL"]}}],
      "mark": {"type": "text", "dx": 15, "dy": -7, "fontSize": 13, "color": "#404040"},
      "encoding": {"x": {"field": "x", "type": "quantitative", "title": "Przywóz towarów i usług, w %"}, "y": {"field": "y", "type": "quantitative", "title": "Wywóz towarów i usług, w %"}, "text": {"field": "c"}}
     },
     {
      "data": {"name": "f"},
      "transform": [{"filter": {"field": "c", "oneOf": ["CZ","AT","CY","FI","ES","FR"]}}],
      "mark": {"type": "text", "dx": 12, "dy": 12, "fontSize": 13, "color": "#404040"},
      "encoding": {"x": {"field": "x", "type": "quantitative", "title": "Przywóz towarów i usług, w %"}, "y": {"field": "y", "type": "quantitative", "title": "Wywóz towarów i usług, w %"}, "text": {"field": "c"}}
     },
     {
      "data": {"name": "f"},
      "transform": [{"filter": {"field": "c", "oneOf": ["IE","MT"]}}],
      "mark": {"type": "text", "dx": 24, "dy": 1, "fontSize": 13, "color": "#404040"},
      "encoding": {"x": {"field": "x", "type": "quantitative", "title": "Przywóz towarów i usług, w %"}, "y": {"field": "y", "type": "quantitative", "title": "Wywóz towarów i usług, w %"}, "text": {"field": "c"}}
     },
     {
      "data": {"name": "f"},
      "transform": [{"filter": {"field": "c", "oneOf": ["BG","HR","RO"]}}],
      "mark": {"type": "text", "dx": -20, "dy": 3, "fontSize": 13, "color": "#404040"},
      "encoding": {"x": {"field": "x", "type": "quantitative", "title": "Przywóz towarów i usług, w %"}, "y": {"field": "y", "type": "quantitative", "title": "Wywóz towarów i usług, w %"}, "text": {"field": "c"}}
     },
     {
      "data": {"name": "f"},
      "transform": [{"filter": {"field": "c", "oneOf": ["EE","DK","PT","SE","LU"]}}],
      "mark": {"type": "text", "dx": -16, "dy": -8, "fontSize": 13, "color": "#404040"},
      "encoding": {"x": {"field": "x", "type": "quantitative", "title": "Przywóz towarów i usług, w %"}, "y": {"field": "y", "type": "quantitative", "title": "Wywóz towarów i usług, w %"}, "text": {"field": "c"}}
     },
     {
      "data": {"name": "f"},
      "transform": [{"filter": {"field": "c", "oneOf": ["LV","SK"]}}],
      "mark": {"type": "text", "dx": 0, "dy": -13, "fontSize": 13, "color": "#404040"},
      "encoding": {"x": {"field": "x", "type": "quantitative", "title": "Przywóz towarów i usług, w %"}, "y": {"field": "y", "type": "quantitative", "title": "Wywóz towarów i usług, w %"}, "text": {"field": "c"}}
     },
     {
      "data": {"name": "f"},
      "transform": [{"filter": {"field": "c", "oneOf": ["BE","IT","DE"]}}],
      "mark": {"type": "text", "dx": -3, "dy": 16, "fontSize": 13, "color": "#404040"},
      "encoding": {"x": {"field": "x", "type": "quantitative", "title": "Przywóz towarów i usług, w %"}, "y": {"field": "y", "type": "quantitative", "title": "Wywóz towarów i usług, w %"}, "text": {"field": "c"}}
     }
    ]
   }
  ]
 }
]
}
